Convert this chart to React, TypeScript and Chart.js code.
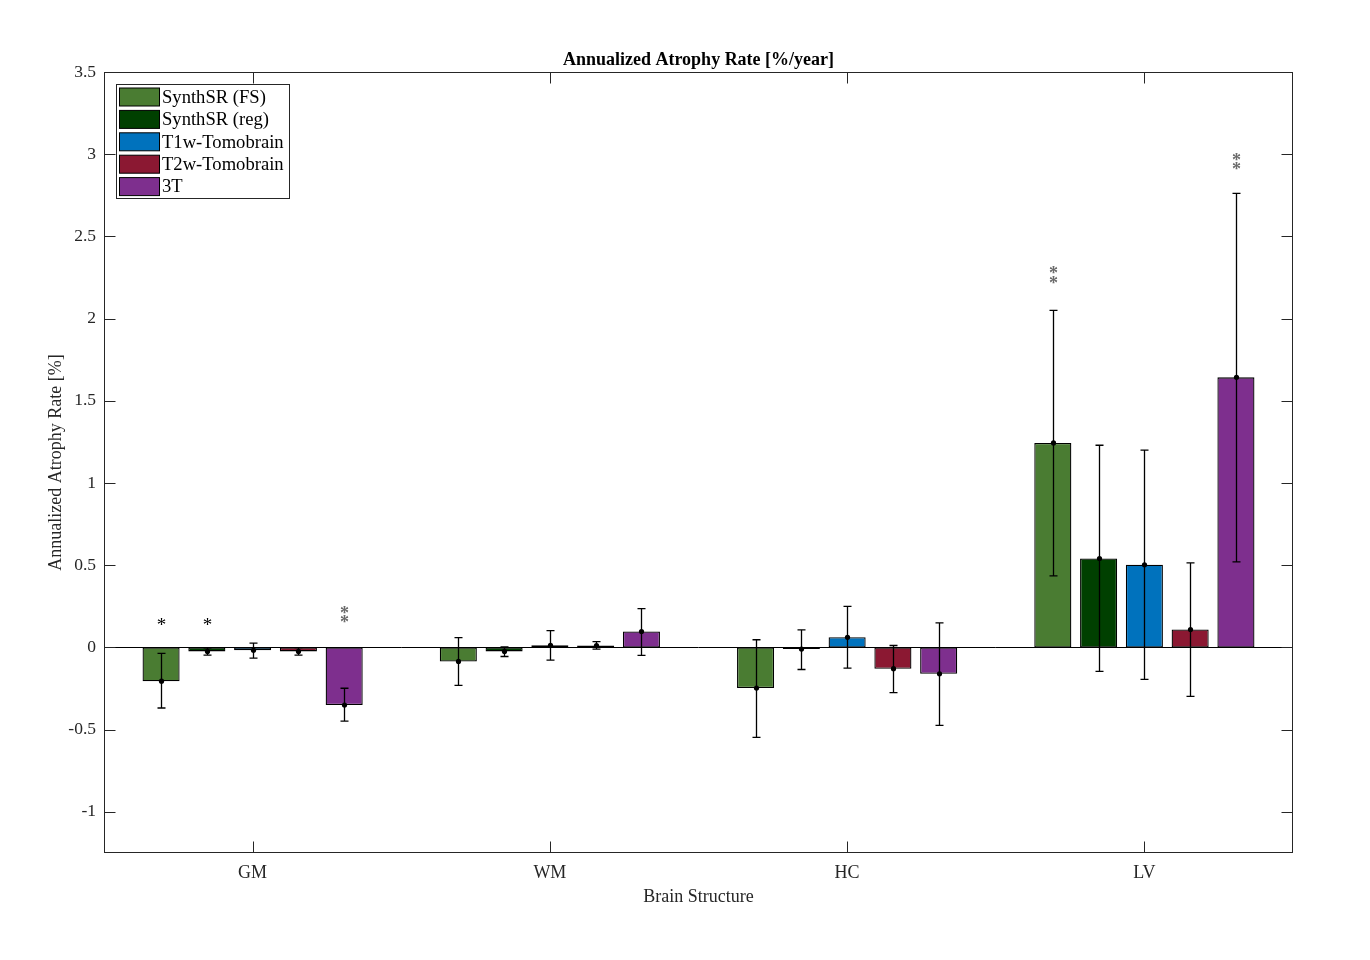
import { useEffect, useRef } from "react";
import { Chart, registerables } from "chart.js";

Chart.register(...registerables);

// categories and tick labels
const structures = ["GM", "WM", "HC", "LV"];
const yTicks = [-1, -0.5, 0, 0.5, 1, 1.5, 2, 2.5, 3, 3.5];
const yTickLabels = ["-1", "-0.5", "0", "0.5", "1", "1.5", "2", "2.5", "3", "3.5"];
const seriesLabels = ["SynthSR (FS)", "SynthSR (reg)", "T1w-Tomobrain", "T2w-Tomobrain", "3T"];

// mean annualized atrophy rate per structure
const fsVals = [-0.205, -0.085, -0.247, 1.244];
const regVals = [-0.024, -0.024, -0.01, 0.541];
const t1Vals = [-0.017, 0.013, 0.062, 0.503];
const t2Vals = [-0.024, 0.012, -0.129, 0.109];
const mri3tVals = [-0.35, 0.097, -0.16, 1.643];

// error bar bounds
const fsLo = [-0.368, -0.23, -0.547, 0.435];
const fsHi = [-0.036, 0.06, 0.047, 2.05];
const regLo = [-0.047, -0.055, -0.134, -0.145];
const regHi = [-0.002, 0.004, 0.107, 1.23];
const t1Lo = [-0.065, -0.077, -0.125, -0.194];
const t1Hi = [0.026, 0.103, 0.25, 1.2];
const t2Lo = [-0.047, -0.01, -0.274, -0.297];
const t2Hi = [-0.001, 0.036, 0.012, 0.515];
const mri3tLo = [-0.448, -0.048, -0.474, 0.521];
const mri3tHi = [-0.248, 0.236, 0.15, 2.762];

// significance markers: 1 = "*", 2 = "**", and the height they sit at
const fsSig = [1, 0, 0, 2];
const regSig = [1, 0, 0, 0];
const t1Sig = [0, 0, 0, 0];
const t2Sig = [0, 0, 0, 0];
const mri3tSig = [2, 0, 0, 2];
const fsStarY = [0.16, 0, 0, 2.265];
const regStarY = [0.16, 0, 0, 0];
const t1StarY = [0, 0, 0, 0];
const t2StarY = [0, 0, 0, 0];
const mri3tStarY = [0.2, 0, 0, 2.955];

const colors = ["#4a7c32", "#004000", "#0072bd", "#8b1832", "#7e2f8e"];
const FONT = '"Liberation Serif", "Times New Roman", serif';

const series = [
  { vals: fsVals, lo: fsLo, hi: fsHi, sig: fsSig, starY: fsStarY },
  { vals: regVals, lo: regLo, hi: regHi, sig: regSig, starY: regStarY },
  { vals: t1Vals, lo: t1Lo, hi: t1Hi, sig: t1Sig, starY: t1StarY },
  { vals: t2Vals, lo: t2Lo, hi: t2Hi, sig: t2Sig, starY: t2StarY },
  { vals: mri3tVals, lo: mri3tLo, hi: mri3tHi, sig: mri3tSig, starY: mri3tStarY },
];

function drawStar(ctx: CanvasRenderingContext2D, x: number, y: number, font: string, color: string) {
  ctx.font = font;
  ctx.fillStyle = color;
  ctx.textAlign = "center";
  ctx.textBaseline = "alphabetic";
  const m = ctx.measureText("*");
  const off = (m.actualBoundingBoxAscent - m.actualBoundingBoxDescent) / 2;
  ctx.fillText("*", x, y + off);
}

const overlayPlugin = {
  id: "overlay",
  afterDatasetsDraw(chart: any) {
    const ctx = chart.ctx as CanvasRenderingContext2D;
    const { left, right } = chart.chartArea;
    const yScale = chart.scales.y;
    ctx.save();

    // zero baseline
    const y0 = Math.round(yScale.getPixelForValue(0)) + 0.5;
    ctx.strokeStyle = "#000";
    ctx.lineWidth = 1;
    ctx.beginPath();
    ctx.moveTo(left, y0);
    ctx.lineTo(right, y0);
    ctx.stroke();

    series.forEach((s, i) => {
      const meta = chart.getDatasetMeta(i);
      meta.data.forEach((bar: any, j: number) => {
        const x = Math.round(bar.x) + 0.5;
        const yl = yScale.getPixelForValue(s.lo[j]);
        const yh = yScale.getPixelForValue(s.hi[j]);
        const yv = yScale.getPixelForValue(s.vals[j]);
        ctx.strokeStyle = "#000";
        ctx.lineWidth = 1.3;
        ctx.beginPath();
        ctx.moveTo(x, yl);
        ctx.lineTo(x, yh);
        ctx.moveTo(x - 4, yl);
        ctx.lineTo(x + 4, yl);
        ctx.moveTo(x - 4, yh);
        ctx.lineTo(x + 4, yh);
        ctx.stroke();
        ctx.fillStyle = "#000";
        ctx.beginPath();
        ctx.arc(x, yv, 2.6, 0, Math.PI * 2);
        ctx.fill();

        const ys = yScale.getPixelForValue(s.starY[j]);
        if (s.sig[j] === 1) {
          drawStar(ctx, x, ys, `19px ${FONT}`, "#000");
        } else if (s.sig[j] === 2) {
          drawStar(ctx, x, ys - 4.6, `bold 18px ${FONT}`, "#6a6a6a");
          drawStar(ctx, x, ys + 4.6, `bold 18px ${FONT}`, "#6a6a6a");
        }
      });
    });
    ctx.restore();
  },
  afterDraw(chart: any) {
    const ctx = chart.ctx as CanvasRenderingContext2D;
    const { left, right, top, bottom } = chart.chartArea;
    const xScale = chart.scales.x;
    const yScale = chart.scales.y;
    ctx.save();

    // axes box + inward ticks
    ctx.strokeStyle = "#262626";
    ctx.lineWidth = 1;
    const L = Math.round(left) + 0.5;
    const R = Math.round(right) - 0.5;
    const T = Math.round(top) + 0.5;
    const B = Math.round(bottom) - 0.5;
    ctx.strokeRect(L, T, R - L, B - T);
    ctx.beginPath();
    yTicks.forEach((v) => {
      const py = Math.round(yScale.getPixelForValue(v)) + 0.5;
      ctx.moveTo(L, py);
      ctx.lineTo(L + 11, py);
      ctx.moveTo(R, py);
      ctx.lineTo(R - 11, py);
    });
    structures.forEach((_, i) => {
      const px = Math.round(xScale.getPixelForValue(i)) + 0.5;
      ctx.moveTo(px, B);
      ctx.lineTo(px, B - 11);
      ctx.moveTo(px, T);
      ctx.lineTo(px, T + 11);
    });
    ctx.stroke();

    // title and axis titles
    ctx.fillStyle = "#000";
    ctx.textAlign = "center";
    ctx.textBaseline = "middle";
    ctx.font = `bold 18px ${FONT}`;
    ctx.fillText("Annualized Atrophy Rate [%/year]", (left + right) / 2, top - 12);
    ctx.fillStyle = "#262626";
    ctx.font = `18px ${FONT}`;
    ctx.fillText("Brain Structure", (left + right) / 2, bottom + 44);
    ctx.save();
    ctx.translate(left - 48, (top + bottom) / 2);
    ctx.rotate(-Math.PI / 2);
    ctx.fillText("Annualized Atrophy Rate [%]", 0, 0);
    ctx.restore();

    // legend
    const lx = left + 12;
    const ly = top + 12;
    const lw = 173;
    const lh = 114;
    ctx.fillStyle = "#fff";
    ctx.fillRect(lx, ly, lw, lh);
    ctx.strokeStyle = "#262626";
    ctx.strokeRect(lx + 0.5, ly + 0.5, lw, lh);
    ctx.font = `18.6px ${FONT}`;
    ctx.textAlign = "left";
    ctx.textBaseline = "middle";
    seriesLabels.forEach((label, i) => {
      const cy = ly + 13 + i * 22.4;
      ctx.fillStyle = colors[i];
      ctx.fillRect(lx + 3.5, cy - 9, 40, 18);
      ctx.strokeStyle = "#000";
      ctx.strokeRect(lx + 3.5, cy - 9, 40, 18);
      ctx.fillStyle = "#000";
      ctx.fillText(label, lx + 46, cy + 1);
    });
    ctx.restore();
  },
};

export default function App() {
  const canvasRef = useRef<HTMLCanvasElement>(null);
  const chartRef = useRef<Chart | null>(null);

  useEffect(() => {
    if (!canvasRef.current) return;
    if (chartRef.current) chartRef.current.destroy();

    chartRef.current = new Chart(canvasRef.current, {
      type: "bar",
      data: {
        labels: structures,
        datasets: series.map((s, i) => ({
          label: seriesLabels[i],
          data: s.vals,
          backgroundColor: colors[i],
          borderColor: "#000",
          borderWidth: 1.3,
          borderSkipped: false,
          categoryPercentage: 0.77,
          barPercentage: 0.81,
        })),
      },
      options: {
        responsive: false,
        animation: false,
        devicePixelRatio: 1,
        layout: { padding: { left: 0, right: 77, top: 72, bottom: 0 } },
        plugins: {
          legend: { display: false },
          title: { display: false },
          tooltip: { enabled: false },
        },
        scales: {
          x: {
            grid: { display: false, drawTicks: false },
            border: { display: false },
            ticks: { color: "#262626", font: { family: FONT, size: 18 }, padding: 9 },
            afterFit: (scale: any) => {
              scale.height = 107;
            },
          },
          y: {
            min: -1.25,
            max: 3.5,
            grid: { display: false, drawTicks: false },
            border: { display: false },
            afterBuildTicks: (scale: any) => {
              scale.ticks = yTicks.map((v) => ({ value: v }));
            },
            ticks: {
              color: "#262626",
              font: { family: FONT, size: 17.5 },
              padding: 8,
              callback: (_v: any, i: number) => yTickLabels[i],
            },
            afterFit: (scale: any) => {
              scale.width = 104;
            },
          },
        },
      },
      plugins: [overlayPlugin],
    });

    return () => {
      if (chartRef.current) {
        chartRef.current.destroy();
        chartRef.current = null;
      }
    };
  }, []);

  return (
    <div style={{ position: "absolute", left: 0, top: 0, width: 1370, height: 960, background: "#fff" }}>
      <canvas ref={canvasRef} width={1370} height={960} style={{ width: 1370, height: 960 }} />
    </div>
  );
}
